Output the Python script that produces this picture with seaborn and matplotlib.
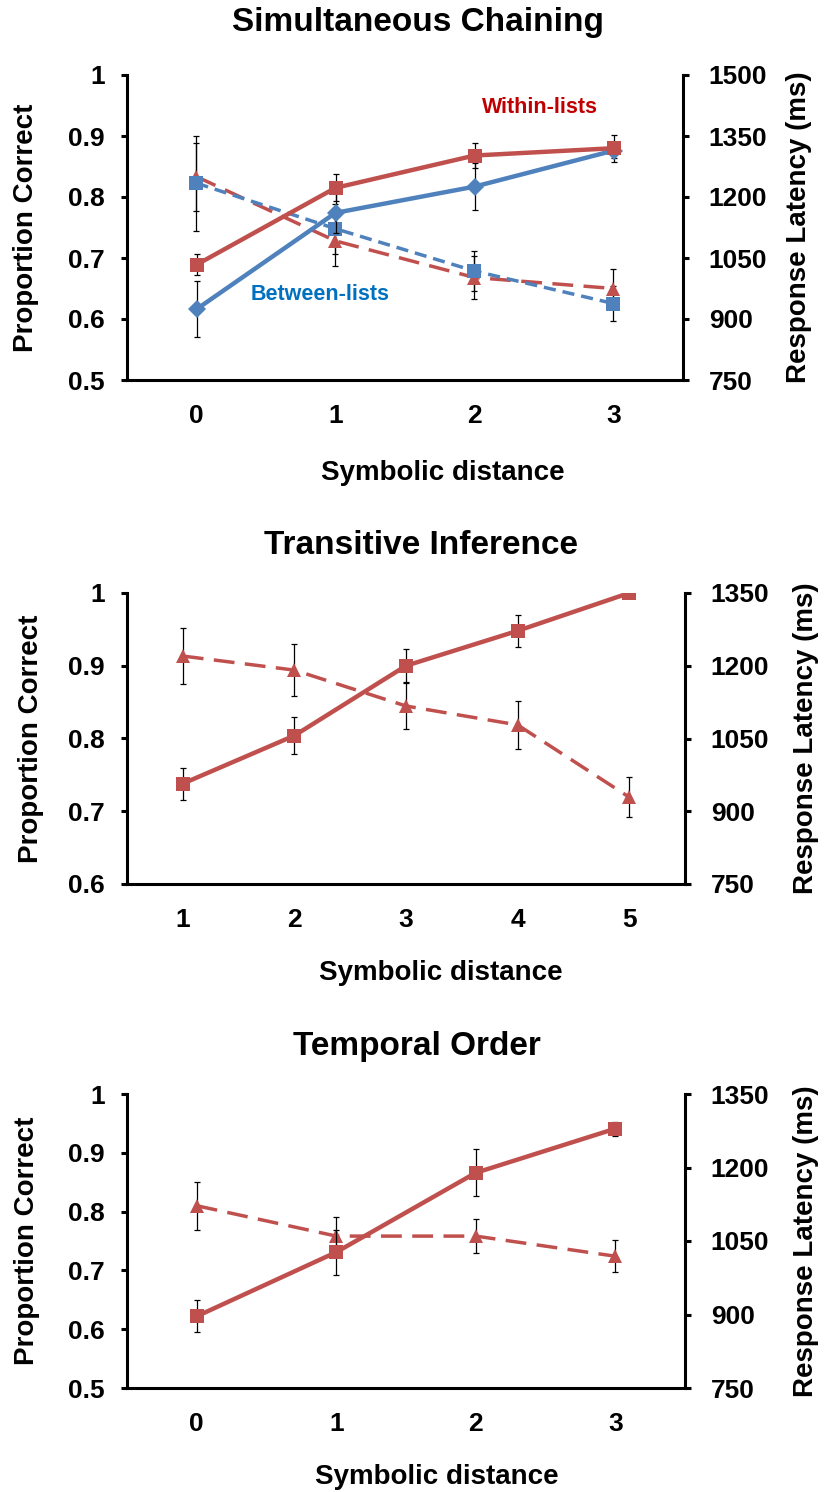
import numpy as np
import pandas as pd
import seaborn as sns
import matplotlib.pyplot as plt

sns.set_theme(style="white")
plt.rcParams['font.family'] = ['Liberation Sans', 'DejaVu Sans']
plt.rcParams['font.weight'] = 'bold'
for key in ("text.color", "axes.labelcolor", "xtick.color", "ytick.color"):
    plt.rcParams[key] = "black"

RED = "#C0504D"
BLUE = "#4F81BD"

# ---- Simultaneous Chaining ----
sc_dist = [0, 1, 2, 3]
sc_within_acc = [0.689, 0.815, 0.868, 0.880]
sc_within_acc_err = [0.017, 0.022, 0.020, 0.022]
sc_between_acc = [0.616, 0.774, 0.817, 0.876]
sc_between_acc_err = [0.046, 0.033, 0.038, 0.012]
sc_within_rt = [1250, 1092, 1002, 975]
sc_within_rt_err = [84, 61, 54, 49]
sc_between_rt = [1234, 1122, 1018, 938]
sc_between_rt_err = [117, 61, 48, 43]

# ---- Transitive Inference ----
ti_dist = [1, 2, 3, 4, 5]
ti_acc = [0.738, 0.804, 0.900, 0.948, 1.000]
ti_acc_err = [0.022, 0.025, 0.023, 0.022, 0.0]
ti_rt = [1220, 1191, 1117, 1078, 929]
ti_rt_err = [57, 53, 47, 49, 41]

# ---- Temporal Order ----
to_dist = [0, 1, 2, 3]
to_acc = [0.622, 0.731, 0.866, 0.941]
to_acc_err = [0.027, 0.038, 0.040, 0.012]
to_rt = [1122, 1060, 1060, 1019]
to_rt_err = [49, 40, 34, 33]

W, H = 824, 1492
fig = plt.figure(figsize=(W / 100, H / 100), dpi=100)

SPINE_W = 2.2
TICK_FS = 19
LABEL_FS = 20
TITLE_FS = 24


def fx(px):
    return px / W


def fy(py):
    return 1 - py / H


def draw_series(ax, x, y, err, color, marker, ms, dashes):
    df = pd.DataFrame({"x": x, "y": y})
    ax.errorbar(x, y, yerr=err, fmt="none", ecolor="black", elinewidth=0.9,
                capsize=2.5, capthick=0.9, zorder=2)
    lw = 3.2 if dashes is None else 2.5
    sns.lineplot(data=df, x="x", y="y", ax=ax, color=color, lw=lw,
                 marker=marker, markersize=ms, markeredgecolor=color,
                 markeredgewidth=0, zorder=3)
    if dashes is not None:
        ax.lines[-1].set_dashes(dashes)


def make_panel(box, xs, ylim_l, yticks_l, ylab_l, ylim_r, yticks_r, series_l, series_r,
               title, title_xy, xlabel_xy, ylab_left_x, ylab_right_x):
    left, top, right, bottom = box
    ax = fig.add_axes([fx(left), fy(bottom), fx(right - left), (bottom - top) / H])
    ax2 = ax.twinx()
    for args in series_r:
        draw_series(ax2, xs, *args)
    for args in series_l:
        draw_series(ax, xs, *args)
    ax.set_zorder(ax2.get_zorder() + 1)
    ax.patch.set_visible(False)

    ax.set_xlim(xs[0] - 0.5, xs[-1] + 0.5)
    ax.set_ylim(*ylim_l)
    ax2.set_ylim(*ylim_r)
    ax.set_yticks(yticks_l)
    ax.set_yticklabels(ylab_l, fontsize=TICK_FS, fontweight="bold")
    ax2.set_yticks(yticks_r)
    ax2.set_yticklabels([str(v) for v in yticks_r], fontsize=TICK_FS, fontweight="bold")
    ax.set_xticks(xs)
    ax.set_xticklabels([str(v) for v in xs], fontsize=TICK_FS, fontweight="bold")
    ax.set_xticks(np.arange(xs[0] - 0.5, xs[-1] + 0.51, 1.0), minor=True)
    ax.tick_params(axis="x", which="major", length=0, pad=17)
    ax.tick_params(axis="x", which="minor", length=5, width=SPINE_W, direction="out",
                   color="black")
    ax.tick_params(axis="y", which="major", length=4.5, width=SPINE_W, direction="out",
                   color="black", pad=11.5, left=True)
    ax2.tick_params(axis="y", which="major", length=4.5, width=SPINE_W, direction="out",
                    color="black", pad=14, right=True)
    for a in (ax, ax2):
        a.set_xlabel("")
        a.set_ylabel("")
        a.grid(False)
        for s in a.spines.values():
            s.set_color("black")
            s.set_linewidth(SPINE_W)
        a.spines["top"].set_visible(False)
    ax.spines["right"].set_visible(False)
    ax2.spines["left"].set_visible(False)
    ax2.spines["bottom"].set_visible(False)

    cy = (top + bottom) / 2
    fig.text(fx(title_xy[0]), fy(title_xy[1]), title, ha="center", va="center",
             fontsize=TITLE_FS, fontweight="bold")
    fig.text(fx(xlabel_xy[0]), fy(xlabel_xy[1]), "Symbolic distance", ha="center",
             va="center", fontsize=LABEL_FS, fontweight="bold")
    fig.text(fx(ylab_left_x), fy(cy), "Proportion Correct", rotation=90, ha="center",
             va="center", fontsize=LABEL_FS, fontweight="bold")
    fig.text(fx(ylab_right_x), fy(cy), "Response Latency (ms)", rotation=90, ha="center",
             va="center", fontsize=LABEL_FS, fontweight="bold")
    return ax, ax2


RED_DASH = (6, 3)
BLUE_DASH = (3.5, 2)

# Panel 1
ax, ax2 = make_panel(
    (127, 75, 683, 380), sc_dist,
    (0.5, 1.0), [0.5, 0.6, 0.7, 0.8, 0.9, 1.0], ["0.5", "0.6", "0.7", "0.8", "0.9", "1"],
    (750, 1500), [750, 900, 1050, 1200, 1350, 1500],
    [(sc_between_acc, sc_between_acc_err, BLUE, "D", 9.5, None),
     (sc_within_acc, sc_within_acc_err, RED, "s", 9.5, None)],
    [(sc_within_rt, sc_within_rt_err, RED, "^", 10, RED_DASH),
     (sc_between_rt, sc_between_rt_err, BLUE, "s", 9.5, BLUE_DASH)],
    "Simultaneous Chaining", (418, 22), (443, 473), 26, 799)
ax.text(0.743, 0.892, "Within-lists", transform=ax.transAxes, ha="center", va="center",
        color="#C00000", fontsize=15.5, fontweight="bold")
ax.text(0.347, 0.279, "Between-lists", transform=ax.transAxes, ha="center", va="center",
        color="#0070C0", fontsize=15.5, fontweight="bold")

# Panel 2
make_panel(
    (127, 593, 685, 884), ti_dist,
    (0.6, 1.0), [0.6, 0.7, 0.8, 0.9, 1.0], ["0.6", "0.7", "0.8", "0.9", "1"],
    (750, 1350), [750, 900, 1050, 1200, 1350],
    [(ti_acc, ti_acc_err, RED, "s", 9.5, None)],
    [(ti_rt, ti_rt_err, RED, "^", 10, RED_DASH)],
    "Transitive Inference", (421, 545), (441, 973), 31, 806)

# Panel 3
make_panel(
    (127, 1094, 685, 1388), to_dist,
    (0.5, 1.0), [0.5, 0.6, 0.7, 0.8, 0.9, 1.0], ["0.5", "0.6", "0.7", "0.8", "0.9", "1"],
    (750, 1350), [750, 900, 1050, 1200, 1350],
    [(to_acc, to_acc_err, RED, "s", 9.5, None)],
    [(to_rt, to_rt_err, RED, "^", 10, RED_DASH)],
    "Temporal Order", (417, 1047), (437, 1477), 27, 806)

fig.savefig("out.png", dpi=100)
